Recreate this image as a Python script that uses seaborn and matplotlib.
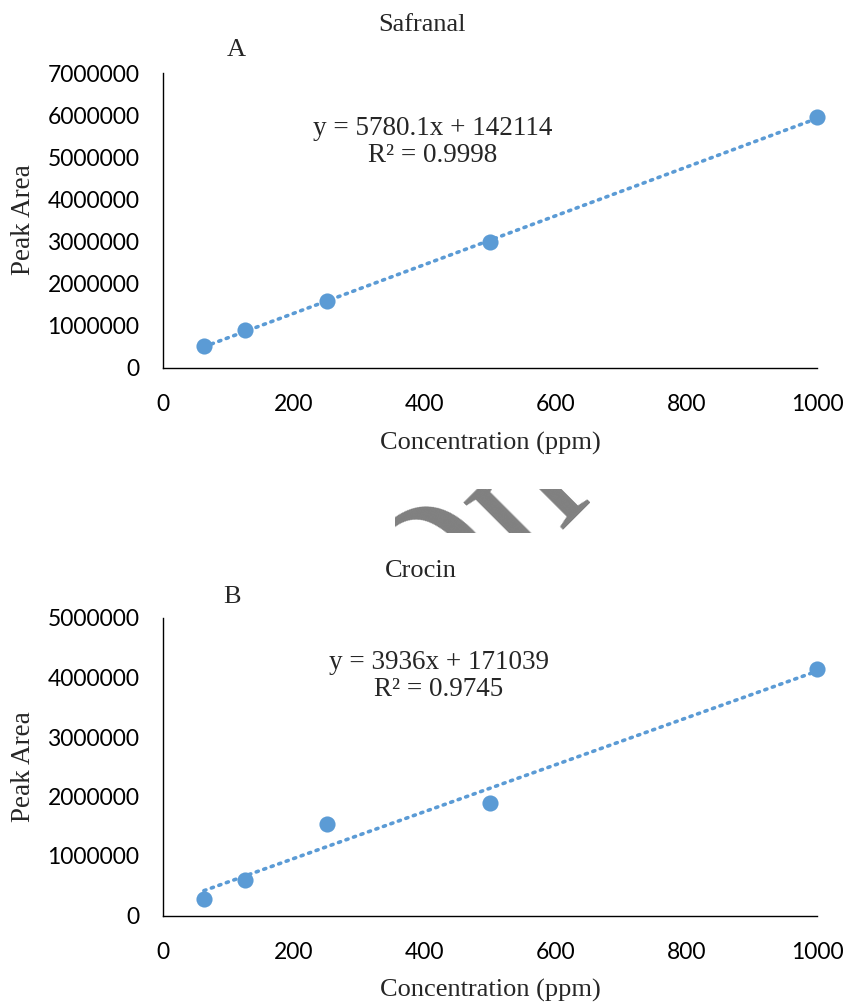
import numpy as np
import pandas as pd
import matplotlib
matplotlib.use("Agg")
import matplotlib.pyplot as plt
import seaborn as sns
from matplotlib.patches import Rectangle

# ---- data ----
conc = [62.5, 125, 250, 500, 1000]
safranal_area = [520000, 890000, 1600000, 2990000, 5960000]
crocin_area = [270000, 600000, 1540000, 1890000, 4150000]
safranal_fit = (5780.1, 142114)
crocin_fit = (3936, 171039)
safranal_eq = ["y = 5780.1x + 142114", "R² = 0.9998"]
crocin_eq = ["y = 3936x + 171039", "R² = 0.9745"]
x_ticks = [0, 200, 400, 600, 800, 1000]
safranal_yticks = [0, 1000000, 2000000, 3000000, 4000000, 5000000, 6000000, 7000000]
crocin_yticks = [0, 1000000, 2000000, 3000000, 4000000, 5000000]

sns.set_theme(style="white")
plt.rcParams['font.family'] = ['Lato', 'DejaVu Sans']

BLUE = "#5B9BD5"
SERIF = "Liberation Serif"

fig = plt.figure(figsize=(8.49, 10.05), dpi=100)
W, H = 849, 1005

def add_axes_px(left, top, right, bottom):
    return fig.add_axes([left / W, 1 - bottom / H, (right - left) / W, (bottom - top) / H])

ax1 = add_axes_px(163, 73, 817, 368)
ax2 = add_axes_px(163, 618, 817, 915.5)

def draw(ax, y, fit, eq, yticks, eq_pos, xlab_y, ylab_y):
    df = pd.DataFrame({"x": conc, "y": y})
    xs = np.array([conc[0], conc[-1]])
    line = pd.DataFrame({"x": xs, "y": fit[0] * xs + fit[1]})
    sns.lineplot(data=line, x="x", y="y", ax=ax, color=BLUE, linewidth=2.6,
                 linestyle=(0, (0.6, 1.6)), dash_capstyle="round", zorder=2)
    sns.scatterplot(data=df, x="x", y="y", ax=ax, color=BLUE, s=135,
                    edgecolor=BLUE, linewidth=0, zorder=3, clip_on=False)
    ax.set_xlim(0, 1000)
    ax.set_ylim(0, yticks[-1])
    ax.set_xticks(x_ticks)
    ax.set_yticks(yticks)
    ax.set_yticklabels([str(v) for v in yticks])
    ax.tick_params(axis="both", length=0, labelsize=16.5, colors="black")
    ax.tick_params(axis="x", pad=19)
    ax.tick_params(axis="y", pad=17)
    for s in ["top", "right"]:
        ax.spines[s].set_visible(False)
    for s in ["left", "bottom"]:
        ax.spines[s].set_color("black")
        ax.spines[s].set_linewidth(1.0)
    ax.set_xlabel("Concentration (ppm)", fontfamily=SERIF, fontsize=19)
    ax.set_ylabel("Peak Area", fontfamily=SERIF, fontsize=19.5)
    ax.xaxis.label.set_va("center")
    ax.yaxis.label.set_va("center")
    ax.xaxis.set_label_coords(490 / W, 1 - xlab_y / H, transform=fig.transFigure)
    ax.yaxis.set_label_coords(24 / W, 1 - ylab_y / H, transform=fig.transFigure)
    ax.text(eq_pos[0], eq_pos[1], eq[0] + "\n" + eq[1], transform=fig.transFigure,
            ha="center", va="center", fontfamily=SERIF, fontsize=19.5, linespacing=1.12)

draw(ax1, safranal_area, safranal_fit, safranal_eq, safranal_yticks, (433 / W, 1 - 142 / H), 443, 220)
draw(ax2, crocin_area, crocin_fit, crocin_eq, crocin_yticks, (439 / W, 1 - 676 / H), 990, 767)

fig.text(422 / W, 1 - 25 / H, "Safranal", ha="center", va="center", fontfamily=SERIF, fontsize=19)
fig.text(236 / W, 1 - 50 / H, "A", ha="center", va="center", fontfamily=SERIF, fontsize=19)
fig.text(421 / W, 1 - 571 / H, "Crocin", ha="center", va="center", fontfamily=SERIF, fontsize=19)
fig.text(232 / W, 1 - 597 / H, "B", ha="center", va="center", fontfamily=SERIF, fontsize=19)

# partial watermark (clipped)
wm = fig.text(528 / W, 1 - 492 / H, "Only", ha="center", va="center", fontfamily=SERIF,
              fontsize=140, color="#808080", rotation=45)
clip = Rectangle((395, H - 533), 195, 44, transform=None, facecolor="none", edgecolor="none")
fig.add_artist(clip)
wm.set_clip_path(clip)

fig.savefig("out.png", dpi=100)
